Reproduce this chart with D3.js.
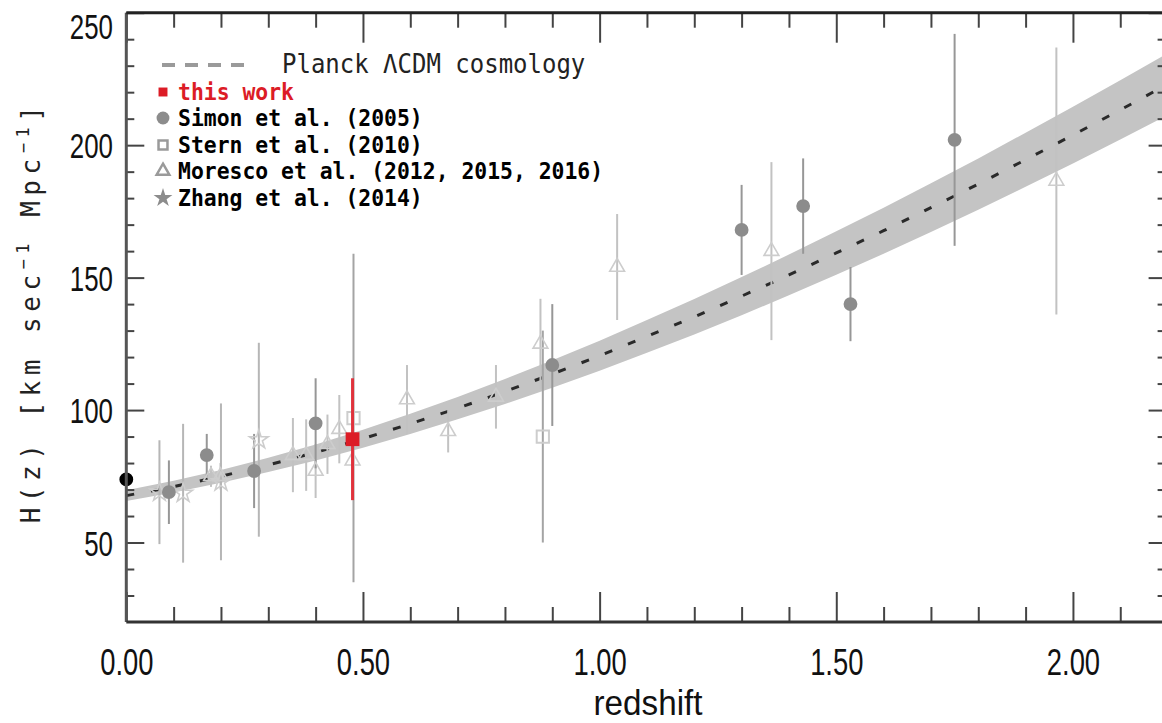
<!DOCTYPE html>
<html>
<head>
<meta charset="utf-8">
<script src="https://cdn.jsdelivr.net/npm/d3@7"></script>
<style>
  body { margin: 0; background: #fff; }
  svg { display: block; }
</style>
</head>
<body>
<div id="chart"></div>
<script>
// Courbe Planck LCDM (z, H, demi-largeur de la bande)
const modelZ = [0.0, 0.1, 0.2, 0.3, 0.4, 0.5, 0.6, 0.7, 0.8, 0.9, 1.0, 1.1,
                1.2, 1.3, 1.4, 1.5, 1.6, 1.7, 1.8, 1.9, 2.0, 2.1, 2.2];
const modelH = [67.7, 71.1, 75.0, 79.3, 84.0, 89.2, 94.8, 100.7, 107.0, 113.6, 120.5, 127.8,
                135.2, 143.0, 151.0, 159.3, 167.7, 176.4, 185.3, 194.5, 203.8, 213.3, 223.0];
const modelErr = [2.0, 2.2, 2.4, 2.7, 3.0, 3.4, 3.8, 4.2, 4.7, 5.2, 5.7, 6.2,
                  6.7, 7.2, 7.7, 8.2, 8.7, 9.2, 9.7, 10.2, 10.7, 11.2, 11.7];

// Points de mesure
const localZ = [0.0];
const localH = [73.8];
const localErr = [2.4];

const thisZ = [0.478];
const thisH = [89];
const thisErr = [23];

const simonZ = [0.09, 0.17, 0.27, 0.40, 0.90, 1.30, 1.43, 1.53, 1.75];
const simonH = [69, 83, 77, 95, 117, 168, 177, 140, 202];
const simonErr = [12, 8, 14, 17, 23, 17, 18, 14, 40];

const sternZ = [0.48, 0.88];
const sternH = [97, 90];
const sternErr = [62, 40];

const morescoZ = [0.179, 0.199, 0.352, 0.380, 0.400, 0.425, 0.450, 0.478, 0.593, 0.680, 0.781, 0.875, 1.037, 1.363, 1.965];
const morescoH = [75, 75, 83, 83, 77, 87.1, 92.8, 80.9, 104, 92, 105, 125, 154, 160, 186.5];
const morescoErr = [4, 5, 14, 13.5, 10.2, 11.2, 12.9, 9, 13, 8, 12, 17, 20, 33.6, 50.4];

const zhangZ = [0.07, 0.12, 0.20, 0.28];
const zhangH = [69, 68.6, 72.9, 88.8];
const zhangErr = [19.6, 26.2, 29.6, 36.6];

// Graduations
const xTicks = [0, 0.5, 1.0, 1.5, 2.0];
const xTickLabels = ["0.00", "0.50", "1.00", "1.50", "2.00"];
const yTicks = [50, 100, 150, 200, 250];

const legendLabels = ["this work", "Simon et al. (2005)", "Stern et al. (2010)",
                      "Moresco et al. (2012, 2015, 2016)", "Zhang et al. (2014)"];
const modelLabel = "Planck \u039BCDM cosmology";

// Dimensions
const width = 1162;
const height = 723;

const svg = d3.select("#chart")
  .append("svg")
  .attr("width", width)
  .attr("height", height);

const x = d3.scaleLinear().domain([0, 2.2]).range([126.3, 1167.6]);
const y = d3.scaleLinear().domain([20, 250]).range([622, 12.7]);

const pts = (zs, hs, es) => zs.map((z, i) => ({ z: z, h: hs[i], e: es[i] }));

// Bande d'incertitude du modèle
const model = pts(modelZ, modelH, modelErr);
svg.append("path")
  .datum(model)
  .attr("fill", "#c4c4c4")
  .attr("d", d3.area()
    .x(d => x(d.z))
    .y0(d => y(d.h - d.e))
    .y1(d => y(d.h + d.e)));

// Ligne en tirets
svg.append("path")
  .datum(model)
  .attr("fill", "none")
  .attr("stroke", "#2a2a2a")
  .attr("stroke-width", 3)
  .attr("stroke-dasharray", "8,17")
  .attr("d", d3.line().x(d => x(d.z)).y(d => y(d.h)));

// Barres d'erreur
function errorBars(data, color, w) {
  svg.append("g")
    .selectAll("line")
    .data(data)
    .enter()
    .append("line")
    .attr("x1", d => x(d.z))
    .attr("x2", d => x(d.z))
    .attr("y1", d => y(d.h - d.e))
    .attr("y2", d => y(d.h + d.e))
    .attr("stroke", color)
    .attr("stroke-width", w);
}

function markers(data, type, size, fill, stroke, sw) {
  svg.append("g")
    .selectAll("path")
    .data(data)
    .enter()
    .append("path")
    .attr("transform", d => `translate(${x(d.z)},${y(d.h)})`)
    .attr("d", d3.symbol().type(type).size(size))
    .attr("fill", fill)
    .attr("stroke", stroke)
    .attr("stroke-width", sw);
}

const moresco = pts(morescoZ, morescoH, morescoErr);
const zhang = pts(zhangZ, zhangH, zhangErr);
const stern = pts(sternZ, sternH, sternErr);
const simon = pts(simonZ, simonH, simonErr);

errorBars(moresco, "#c2c2c2", 2);
errorBars(zhang, "#b6b6b6", 2);
errorBars(stern, "#a4a4a4", 2);
errorBars(simon, "#979797", 2);

markers(moresco, d3.symbolTriangle, 95, "none", "#cdcdcd", 1.6);
markers(zhang, d3.symbolStar, 110, "none", "#cdcdcd", 1.6);
markers(stern, d3.symbolSquare, 150, "none", "#cdcdcd", 2);
markers(simon, d3.symbolCircle, 150, "#8c8c8c", "none", 0);

// Ce travail
const thisWork = pts(thisZ, thisH, thisErr);
errorBars(thisWork, "#e0323c", 3);
markers(thisWork, d3.symbolSquare, 190, "#dc1c26", "none", 0);

// H0 local
const local = pts(localZ, localH, localErr);
errorBars(local, "#000", 2);
markers(local, d3.symbolCircle, 150, "#000", "none", 0);

// Axes
const minorX = d3.range(0, 2.21, 0.1).filter(v => Math.abs(v * 2 - Math.round(v * 2)) > 1e-6);
const minorY = d3.range(30, 250, 10).filter(v => v % 50 !== 0);

function styleAxis(g) {
  g.select(".domain").remove();
  g.selectAll("line").attr("stroke", "#444").attr("stroke-width", 2);
}

// bas
svg.append("g")
  .attr("transform", `translate(0,${y(20)})`)
  .call(d3.axisBottom(x).tickValues(minorX).tickSize(-15).tickFormat(""))
  .call(styleAxis);
const xAxis = svg.append("g")
  .attr("transform", `translate(0,${y(20)})`)
  .call(d3.axisBottom(x).tickValues(xTicks).tickSize(-30)
    .tickFormat((d, i) => xTickLabels[i]))
  .call(styleAxis);
xAxis.selectAll("text")
  .attr("y", 53)
  .attr("dy", 0)
  .attr("transform", "scale(0.74,1)")
  .style("font-family", "'Liberation Sans', Arial, sans-serif")
  .style("font-size", "37px")
  .attr("fill", "#111");

// haut
svg.append("g")
  .attr("transform", `translate(0,${y(250)})`)
  .call(d3.axisTop(x).tickValues(minorX).tickSize(-15).tickFormat(""))
  .call(styleAxis);
svg.append("g")
  .attr("transform", `translate(0,${y(250)})`)
  .call(d3.axisTop(x).tickValues(xTicks).tickSize(-30).tickFormat(""))
  .call(styleAxis);

// gauche
svg.append("g")
  .attr("transform", `translate(${x(0)},0)`)
  .call(d3.axisLeft(y).tickValues(minorY).tickSize(-8).tickFormat(""))
  .call(styleAxis);
const yAxis = svg.append("g")
  .attr("transform", `translate(${x(0)},0)`)
  .call(d3.axisLeft(y).tickValues(yTicks).tickSize(-18))
  .call(styleAxis);
yAxis.selectAll("text")
  .attr("x", -18)
  .attr("dy", "0.36em")
  .attr("transform", "scale(0.74,1)")
  .style("font-family", "'Liberation Sans', Arial, sans-serif")
  .style("font-size", "35px")
  .attr("fill", "#111");
yAxis.selectAll("text").filter(d => d === 250).attr("y", 13);

// droite
svg.append("g")
  .attr("transform", `translate(${x(2.2)},0)`)
  .call(d3.axisRight(y).tickValues(minorY).tickSize(-10).tickFormat(""))
  .call(styleAxis);
svg.append("g")
  .attr("transform", `translate(${x(2.2)},0)`)
  .call(d3.axisRight(y).tickValues(yTicks).tickSize(-19).tickFormat(""))
  .call(styleAxis);

// Cadre
svg.append("line").attr("x1", x(0)).attr("x2", x(0)).attr("y1", y(250)).attr("y2", y(20))
  .attr("stroke", "#555").attr("stroke-width", 3);
svg.append("line").attr("x1", x(0)).attr("x2", x(2.2)).attr("y1", y(250)).attr("y2", y(250))
  .attr("stroke", "#222").attr("stroke-width", 3);
svg.append("line").attr("x1", x(0)).attr("x2", x(2.2)).attr("y1", y(20)).attr("y2", y(20))
  .attr("stroke", "#333").attr("stroke-width", 3);

// Titres des axes
svg.append("text")
  .attr("transform", "translate(648,715) scale(0.95,1)")
  .attr("text-anchor", "middle")
  .style("font-family", "'Liberation Sans', Arial, sans-serif")
  .style("font-size", "35px")
  .attr("fill", "#111")
  .text("redshift");

const yTitle = svg.append("text")
  .attr("transform", "translate(40,312) rotate(-90)")
  .attr("text-anchor", "middle")
  .style("font-family", "'DejaVu Sans Mono', monospace")
  .style("font-size", "26px")
  .style("letter-spacing", "5.5px")
  .attr("fill", "#222");
yTitle.append("tspan").text("H(z) [km sec");
yTitle.append("tspan").attr("dy", -11).style("font-size", "17px").text("\u22121");
yTitle.append("tspan").attr("dy", 11).text(" Mpc");
yTitle.append("tspan").attr("dy", -11).style("font-size", "17px").text("\u22121");
yTitle.append("tspan").attr("dy", 11).text("]");

// Légende
const legend = svg.append("g");
legend.append("line")
  .attr("x1", 162).attr("x2", 252).attr("y1", 65).attr("y2", 65)
  .attr("stroke", "#9a9a9a")
  .attr("stroke-width", 4)
  .attr("stroke-dasharray", "13,10");
legend.append("text")
  .attr("transform", "translate(282,73) scale(1,1.08)")
  .style("font-family", "'DejaVu Sans Mono', monospace")
  .style("font-size", "24px")
  .attr("fill", "#222")
  .text(modelLabel);

const legendSymbols = [
  { type: d3.symbolSquare, size: 80, fill: "#dc1c26", stroke: "none" },
  { type: d3.symbolCircle, size: 130, fill: "#8c8c8c", stroke: "none" },
  { type: d3.symbolSquare, size: 80, fill: "none", stroke: "#9a9a9a" },
  { type: d3.symbolTriangle, size: 70, fill: "none", stroke: "#9a9a9a" },
  { type: d3.symbolStar, size: 110, fill: "#8c8c8c", stroke: "none" }
];
const legendY = [92, 118, 145, 171, 198];

legend.selectAll("path.sym")
  .data(legendLabels)
  .enter()
  .append("path")
  .attr("transform", (d, i) => `translate(163,${legendY[i]})`)
  .attr("d", (d, i) => d3.symbol().type(legendSymbols[i].type).size(legendSymbols[i].size)())
  .attr("fill", (d, i) => legendSymbols[i].fill)
  .attr("stroke", (d, i) => legendSymbols[i].stroke)
  .attr("stroke-width", 2.5);

legend.selectAll("text.lab")
  .data(legendLabels)
  .enter()
  .append("text")
  .attr("transform", (d, i) => `translate(178,${legendY[i] + 8}) scale(1,1.05)`)
  .style("font-family", "'DejaVu Sans Mono', monospace")
  .style("font-size", "21.4px")
  .style("font-weight", "bold")
  .attr("fill", (d, i) => i === 0 ? "#dc1c26" : "#000")
  .text(d => d);
</script>
</body>
</html>
